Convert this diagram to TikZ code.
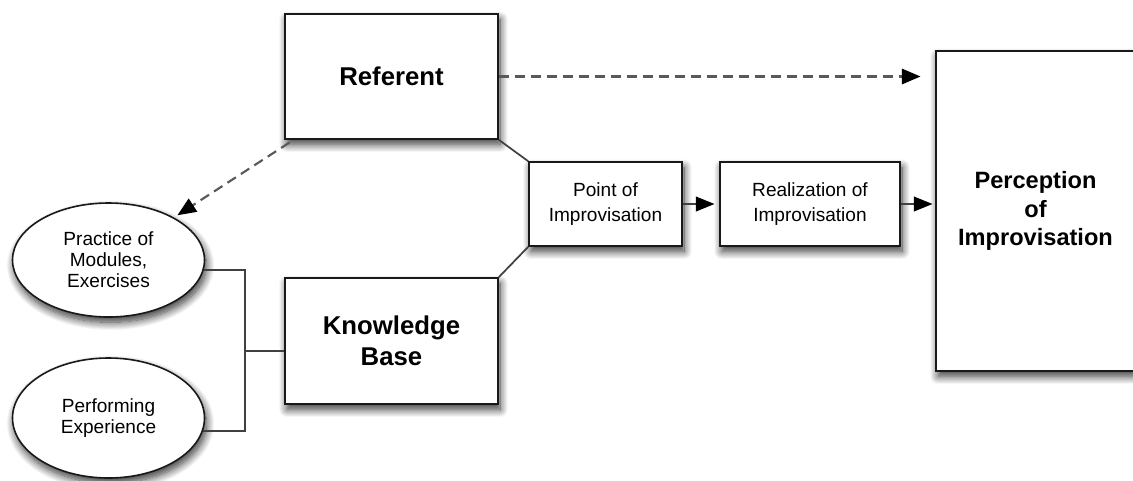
\documentclass[tikz,border=0pt]{standalone}
\usepackage{fontspec}
\setmainfont{Liberation Sans}
\usetikzlibrary{arrows.meta,shapes.geometric,shadows.blur}
\begin{document}
\begin{tikzpicture}[x=0.75pt,y=-0.75pt,
  boxbase/.style={draw=black!90, line width=1.2pt, fill=white, align=center, inner sep=0pt,
    blur shadow={shadow xshift=1.5pt, shadow yshift=-4pt, shadow blur steps=12, shadow blur radius=6pt, shadow opacity=80}},
  bigbox/.style={boxbase, rectangle, minimum width=159.75pt, minimum height=93.75pt,
    font=\fontsize{19.3}{23}\selectfont\bfseries},
  smallbox/.style={boxbase, rectangle, minimum height=63pt, font=\fontsize{14.3}{18.8}\selectfont},
  percbox/.style={boxbase, rectangle, minimum width=149.25pt, minimum height=240pt,
    font=\fontsize{17.7}{21.5}\selectfont\bfseries},
  oval/.style={boxbase, ellipse, minimum width=144pt, font=\fontsize{14.3}{15.75}\selectfont},
  conn/.style={draw=black!75, line width=1.3pt},
  arr/.style={conn, -{Triangle[length=14pt,width=11pt,black]}},
  dasharr/.style={draw=black!65, line width=1.6pt, dash pattern=on 7.5pt off 4.5pt,
    -{Triangle[length=14pt,width=11.5pt,black]}}
]
\useasboundingbox (0,0) rectangle (1133,480);

\node[bigbox] (ref) at (391.5,76.5) {Referent};
\node[bigbox, minimum height=94.5pt] (know) at (391.5,341) {Knowledge\\Base};
\node[smallbox, minimum width=114.75pt] (point) at (605.5,204) {Point of\\Improvisation};
\node[smallbox, minimum width=135pt] (real) at (810,204) {Realization of\\Improvisation};
\node[percbox] (perc) at (1035.5,211) {Perception\\of\\Improvisation};
\node[oval, minimum height=85.5pt] (prac) at (108.5,260) {Practice of\\Modules,\\Exercises};
\node[oval, minimum height=90pt] (perf) at (108.5,418) {Performing\\Experience};

\coordinate (j) at (245,351);
\draw[conn] (prac.-6) -| (j) |- (perf.-8);
\draw[conn] (j) -- (know.west |- j);

\draw[conn] (ref.south east) -- (point.north west);
\draw[conn] (know.north east) -- (point.south west);

\draw[arr, shorten >=3.5pt] (point.east) -- (real.west);
\draw[arr, shorten >=2pt] (real.east) -- (real.east -| perc.west);

\draw[dasharr, shorten >=11pt] (ref.east) -- (ref.east -| perc.west);
\draw[dasharr, shorten >=3pt] ([xshift=4pt,yshift=-2pt]ref.south west) -- (prac);
\end{tikzpicture}
\end{document}
